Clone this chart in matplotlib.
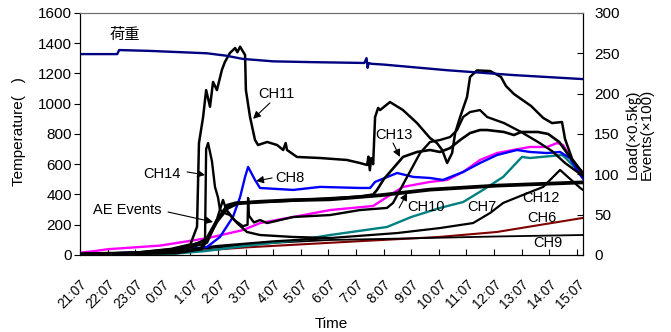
import matplotlib
matplotlib.use("Agg")
import matplotlib.pyplot as plt
from matplotlib.transforms import ScaledTranslation

plt.rcParams['font.family'] = ['Liberation Sans', 'Noto Sans CJK JP', 'DejaVu Sans']

# x values: hours elapsed since 21:07
tick_labels = ["21:07", "22:07", "23:07", "0:07", "1:07", "2:07", "3:07", "4:07", "5:07",
               "6:07", "7:07", "8:07", "9:07", "10:07", "11:07", "12:07", "13:07", "14:07", "15:07"]

# Load (right axis)
load_t = [0, 1.35, 1.42, 2.5, 4.6, 5.3, 5.9, 7.0, 8.44, 10.3, 10.38, 10.42, 10.46, 10.55, 11.0, 13.3, 15.7, 18.22]
load_v = [249, 249, 254, 253, 250, 247, 243, 240, 239, 238, 244, 232, 238, 237, 236, 229, 223, 218]

# AE events (right axis)
ae_t = [0, 3.5, 4.4, 4.6, 4.96, 5.33, 5.69, 6.52, 7.72, 9.06, 10.87, 12.68, 15.11, 18.22]
ae_v = [1, 3, 8, 20, 42, 58, 64, 66, 68, 69, 74, 81, 86, 90]

# CH11
ch11_t = [0, 2.0, 3.3, 4.0, 4.24, 4.31, 4.46, 4.57, 4.71, 4.82, 4.96, 5.14, 5.25, 5.43, 5.62, 5.7, 5.80,
          5.98, 6.01, 6.16, 6.34, 6.45, 6.78, 7.14, 7.36, 7.45, 7.5, 7.86, 8.7, 9.67, 10.14, 10.40, 10.45,
          10.5, 10.55, 10.62, 10.69, 10.80, 10.87, 11.23, 11.70, 12.21, 12.68, 12.93, 13.12, 13.30, 13.48,
          13.59, 13.77, 14.02, 14.13, 14.38, 14.86, 15.25, 15.43, 15.72, 16.34, 16.78, 17.10, 17.46, 17.57,
          17.83, 18.22]
ch11_v = [5, 15, 40, 70, 187, 740, 912, 1090, 980, 1144, 1090, 1223, 1276, 1335, 1368, 1340, 1377,
          1322, 1090, 912, 760, 727, 747, 727, 694, 740, 694, 648, 641, 628, 608, 595, 650,
          560, 640, 600, 912, 972, 958, 1011, 958, 872, 773, 740, 694, 608, 674,
          806, 912, 1044, 1177, 1220, 1216, 1177, 1117, 1064, 985, 906, 872, 879, 767,
          634, 535]

# CH13
ch13_t = [0, 2, 3.5, 4.6, 4.96, 5.33, 5.62, 6.5, 7.72, 9.06, 10.14, 10.62, 10.76, 11.0, 11.70, 12.21,
          12.68, 13.04, 13.41, 13.77, 14.13, 14.49, 14.75, 15.36, 15.72, 15.98, 16.59, 16.96, 17.36,
          17.72, 18.22]
ch13_v = [5, 12, 30, 100, 230, 330, 345, 350, 360, 375, 385, 400, 430, 500, 648, 681,
          694, 681, 707, 760, 806, 826, 826, 813, 793, 813, 813, 800, 747,
          654, 542]

# CH10
ch10_t = [0, 2, 3.5, 4.6, 4.9, 5.18, 5.3, 5.6, 5.9, 6.07, 6.09, 6.12, 6.3, 6.52, 6.78, 7.72, 9.06,
          10.14, 11.12, 11.34, 11.85, 12.32, 12.68, 13.04, 13.41, 13.66, 13.88, 14.13, 14.49, 14.75,
          15.36, 15.98, 16.59, 17.10, 17.57, 18.22]
ch10_v = [5, 12, 25, 80, 200, 364, 300, 230, 190, 200, 377, 260, 215, 231, 211, 251, 264,
          297, 311, 344, 516, 674, 747, 760, 780, 826, 912, 945, 958, 912,
          872, 813, 747, 687, 608, 522]

# CH14
ch14_t = [0, 2, 3.5, 4.3, 4.5, 4.53, 4.57, 4.64, 4.78, 4.89, 5.0, 5.07, 5.2, 5.43, 5.69, 6.05, 6.52, 7.72, 9.06]
ch14_v = [5, 15, 40, 80, 100, 110, 700, 740, 620, 450, 380, 300, 280, 264, 211, 152, 132, 119, 112]

# CH12
ch12_t = [0, 3, 5, 7, 9.06, 11.49, 13.04, 14.24, 14.86, 15.33, 16.05, 16.78, 17.39, 18.12, 18.22]
ch12_v = [5, 20, 60, 90, 112, 145, 178, 211, 278, 344, 397, 450, 562, 443, 430]

# CH9
ch9_t = [0, 3, 5, 7, 9.06, 12, 15, 18.22]
ch9_v = [5, 20, 50, 80, 99, 110, 122, 132]

# CH6
ch6_t = [0, 4.5, 6, 8, 10, 13, 15.1, 18.22]
ch6_v = [0, 30, 50, 70, 90, 119, 152, 245]

# CH7
ch7_t = [0, 3.5, 4.5, 6, 8, 9.06, 11.12, 12, 13.04, 13.88, 14.6, 15.33, 16.01, 16.3, 17.46, 17.6, 18.12, 18.22]
ch7_v = [0, 10, 25, 60, 100, 132, 185, 251, 311, 350, 430, 516, 648, 641, 661, 640, 542, 520]

# magenta (unlabelled channel)
mag_t = [0, 0.5, 1, 2.9, 4.64, 5.91, 6.52, 7.72, 9.06, 10.62, 11.12, 11.70, 12.68, 13.30, 13.88, 14.49, 15.11,
         15.69, 16.30, 16.92, 17.28, 17.5, 17.75, 18.12, 18.22]
mag_v = [15, 25, 38, 62, 112, 165, 211, 251, 297, 324, 383, 450, 483, 496, 549, 628, 674,
         694, 714, 714, 740, 727, 650, 542, 510]

# CH8
ch8_t = [0, 3.5, 4.6, 5.07, 5.54, 5.80, 5.98, 6.09, 6.34, 6.52, 7.72, 8.70, 10.14, 10.51, 10.69, 11.49,
         12.07, 12.68, 13.15, 13.88, 14.49, 15.11, 15.83, 16.30, 16.92, 17.39, 17.75, 18.12, 18.22]
ch8_v = [5, 25, 53, 119, 251, 383, 516, 582, 496, 443, 430, 450, 443, 443, 483, 542,
         516, 509, 496, 549, 608, 661, 694, 681, 674, 681, 640, 529, 505]

fig = plt.figure(figsize=(6.71, 3.32), dpi=100)
ax = fig.add_axes([0.1192, 0.232, 0.7496, 0.729])
ax2 = ax.twinx()

ax.plot(ch6_t, ch6_v, color='#800000', lw=1.5)
ax.plot(ch9_t, ch9_v, color='black', lw=1.3)
ax.plot(ch7_t, ch7_v, color='#008080', lw=1.7)
ax.plot(ch12_t, ch12_v, color='black', lw=1.6)
ax.plot(mag_t, mag_v, color='#FF00FF', lw=1.7)
ax.plot(ch8_t, ch8_v, color='#0000FF', lw=1.7)
ax.plot(ch14_t, ch14_v, color='black', lw=1.7)
ax.plot(ch10_t, ch10_v, color='black', lw=1.7)
ax.plot(ch13_t, ch13_v, color='black', lw=1.9)
ax.plot(ch11_t, ch11_v, color='black', lw=1.8)

ax2.plot(ae_t, ae_v, color='black', lw=2.7)
ax2.plot(load_t, load_v, color='#000080', lw=1.7)

ax.set_xlim(0, 18.22)
ax.set_ylim(0, 1600)
ax2.set_ylim(0, 300)
ax.set_yticks(range(0, 1601, 200))
ax2.set_yticks(range(0, 301, 50))
ax.set_xticks(range(len(tick_labels)))
ax.set_xticklabels(tick_labels, rotation=45, ha='right', rotation_mode='anchor', fontsize=9.8)
shift = ScaledTranslation(-11 / 100, 0, fig.dpi_scale_trans)
for lab in ax.get_xticklabels():
    lab.set_transform(lab.get_transform() + shift)

ax.tick_params(axis='x', direction='in', length=4, pad=16)
ax.tick_params(axis='y', direction='out', length=4, labelsize=11, pad=2)
ax2.tick_params(axis='y', direction='in', length=4, labelsize=11, pad=8)
for a in (ax, ax2):
    a.spines['top'].set_color('#707070')

ax.set_xlabel('Time', fontsize=11, labelpad=4)
ax.set_ylabel('Temperature(   )', fontsize=11)
ax.yaxis.set_label_coords(-0.108, 0.51)
ax2.set_ylabel('Load(×0.5㎏)\nEvents(×100)', fontsize=11, labelpad=4, linespacing=0.95)

fs = 10.5
ax.text(1.09, 1454, '荷重', fontsize=11, ha='left', va='center')
ax.text(6.45, 1064, 'CH11', fontsize=fs, ha='left', va='center')
ax.text(10.69, 793, 'CH13', fontsize=fs, ha='left', va='center')
ax.text(2.28, 535, 'CH14', fontsize=fs, ha='left', va='center')
ax.text(7.07, 509, 'CH8', fontsize=fs, ha='left', va='center')
ax.text(0.47, 297, 'AE Events', fontsize=fs, ha='left', va='center')
ax.text(11.85, 317, 'CH10', fontsize=fs, ha='left', va='center')
ax.text(14.02, 317, 'CH7', fontsize=fs, ha='left', va='center')
ax.text(16.01, 377, 'CH12', fontsize=fs, ha='left', va='center')
ax.text(16.2, 245, 'CH6', fontsize=fs, ha='left', va='center')
ax.text(16.41, 79, 'CH9', fontsize=fs, ha='left', va='center')

arrows = [((6.27, 900), (6.88, 1005)),
          ((11.59, 648), (11.34, 740)),
          ((4.53, 529), (3.88, 549)),
          ((6.38, 489), (6.96, 509)),
          ((4.82, 218), (3.19, 284)),
          ((11.85, 410), (11.56, 311))]
for head, tail in arrows:
    ax.annotate('', xy=head, xytext=tail,
                arrowprops=dict(arrowstyle='-|>', color='black', lw=0.8, mutation_scale=11,
                                shrinkA=0, shrinkB=0))

fig.savefig('out.png', dpi=100)
